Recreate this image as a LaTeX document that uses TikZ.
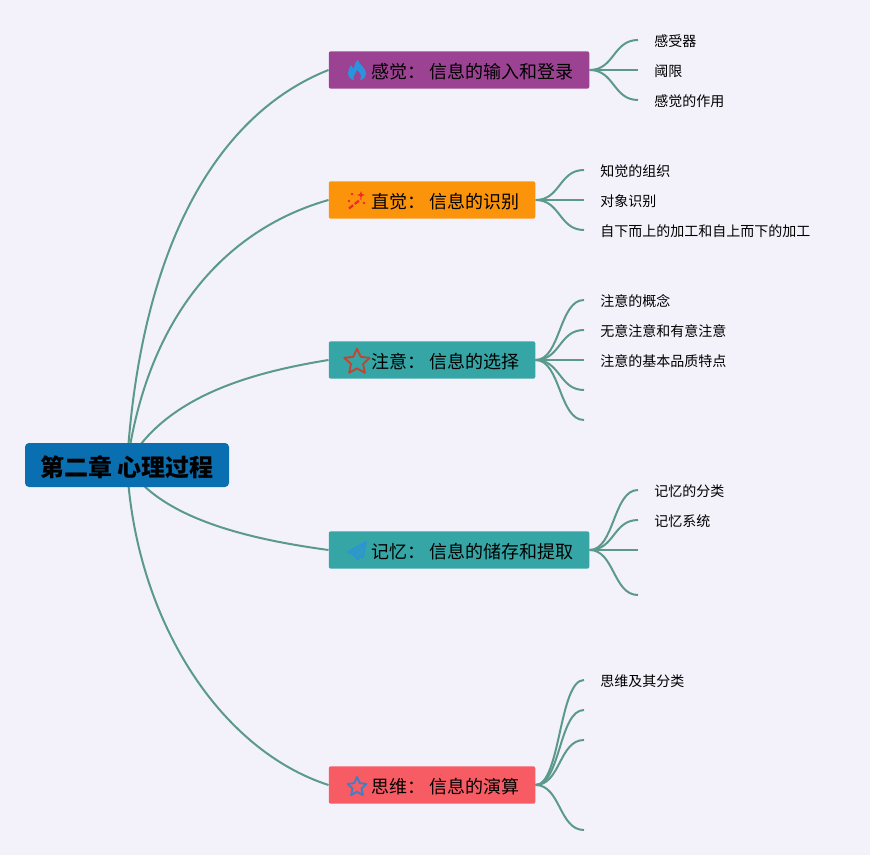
\documentclass[tikz,border=0pt]{standalone}
\usepackage{fontspec}
\setmainfont{Noto Sans CJK SC}
\usetikzlibrary{shapes.geometric}
\definecolor{pagebg}{HTML}{F3F2FA}
\definecolor{rootblue}{HTML}{0A6FB0}
\definecolor{topicpurple}{HTML}{9C4293}
\definecolor{topicorange}{HTML}{FB940B}
\definecolor{topicteal}{HTML}{35A5A5}
\definecolor{topicred}{HTML}{F75C64}
\definecolor{branchgreen}{HTML}{5B9A8B}
\definecolor{iconblue}{HTML}{2A93DC}
\definecolor{iconred}{HTML}{EE2B2B}
\definecolor{iconrust}{HTML}{C2452F}
\definecolor{iconstar}{HTML}{3F7FC4}
\pgfdeclarelayer{pagelayer}
\pgfdeclarelayer{edgelayer}
\pgfsetlayers{pagelayer,edgelayer,main}
\tikzset{
  rootnode/.style={fill=rootblue,rounded corners=3pt,font=\bfseries\fontsize{18}{20}\selectfont,text=black,minimum width=153pt,minimum height=33pt,inner sep=0pt,text height=18pt,text depth=.95pt},
  topic/.style={anchor=west,rounded corners=1.5pt,font=\fontsize{13.5}{16}\selectfont,text=black,minimum height=28pt,inner ysep=0pt,inner xsep=0pt,align=left,text height=14pt,text depth=1.43pt},
  leaf/.style={anchor=west,font=\fontsize{10.5}{13}\selectfont,text=black,inner xsep=12pt,inner ysep=0pt,text height=11pt,text depth=.9pt},
  branch/.style={draw=branchgreen,line width=1.5pt},
}
\begin{document}
\begin{tikzpicture}[x=0.75pt,y=0.75pt,yscale=-1,xscale=1]
\useasboundingbox (0,0) rectangle (870,855);
\begin{pgfonlayer}{pagelayer}
\fill[pagebg] (0,0) rectangle (870,855);
\end{pgfonlayer}

% root and topics
\node[rootnode] (root) at (127,465) {第二章 心理过程};
\node[topic,fill=topicpurple,minimum width=195.4pt] (senses) at (328.5,70) {\hspace{31.6pt}感觉： 信息的输入和登录\hspace{11pt}};
\node[topic,fill=topicorange,minimum width=154.9pt] (percept) at (328.5,200) {\hspace{31.6pt}直觉： 信息的识别\hspace{11pt}};
\node[topic,fill=topicteal,minimum width=154.9pt] (attend) at (328.5,360) {\hspace{31.6pt}注意： 信息的选择\hspace{11pt}};
\node[topic,fill=topicteal,minimum width=195.4pt] (memory) at (328.5,550) {\hspace{31.6pt}记忆： 信息的储存和提取\hspace{11pt}};
\node[topic,fill=topicred,minimum width=154.9pt] (think) at (328.5,785) {\hspace{31.6pt}思维： 信息的演算\hspace{11pt}};

% leaves of senses
\node[leaf] (senses1) at (638,40) {感受器};
\node[leaf] (senses2) at (638,70) {阈限};
\node[leaf] (senses3) at (638,100) {感觉的作用};
% leaves of percept
\node[leaf] (percept1) at (584,170) {知觉的组织};
\node[leaf] (percept2) at (584,200) {对象识别};
\node[leaf] (percept3) at (584,230) {自下而上的加工和自上而下的加工};
% leaves of attend
\node[leaf] (attend1) at (584,300) {注意的概念};
\node[leaf] (attend2) at (584,330) {无意注意和有意注意};
\node[leaf] (attend3) at (584,360) {注意的基本品质特点};
\node[leaf] (attend4) at (584,390) {};
\node[leaf] (attend5) at (584,420) {};
% leaves of memory
\node[leaf] (memory1) at (638,490) {记忆的分类};
\node[leaf] (memory2) at (638,520) {记忆系统};
\node[leaf] (memory3) at (638,550) {};
\node[leaf] (memory4) at (638,595) {};
% leaves of think
\node[leaf] (think1) at (584,680) {思维及其分类};
\node[leaf] (think2) at (584,710) {};
\node[leaf] (think3) at (584,740) {};
\node[leaf] (think4) at (584,830) {};

\begin{pgfonlayer}{edgelayer}
\draw[branch] (root.center) .. controls (140,250) and (215,115) .. (senses.west);
\draw[branch] (root.center) .. controls (150,300) and (240,225) .. (percept.west);
\draw[branch] (root.center) .. controls (165,395) and (255,372) .. (attend.west);
\draw[branch] (root.center) .. controls (160,520) and (255,540) .. (memory.west);
\draw[branch] (root.center) .. controls (135,620) and (220,750) .. (think.west);
\foreach \leafname in {senses1,senses2,senses3}
  \draw[branch] (senses.east) .. controls +(25,0) and +(-25,0) .. (\leafname.west);
\foreach \leafname in {percept1,percept2,percept3}
  \draw[branch] (percept.east) .. controls +(25,0) and +(-25,0) .. (\leafname.west);
\foreach \leafname in {attend1,attend2,attend3,attend4,attend5}
  \draw[branch] (attend.east) .. controls +(25,0) and +(-25,0) .. (\leafname.west);
\foreach \leafname in {memory1,memory2,memory3,memory4}
  \draw[branch] (memory.east) .. controls +(25,0) and +(-25,0) .. (\leafname.west);
\foreach \leafname in {think1,think2,think3,think4}
  \draw[branch] (think.east) .. controls +(25,0) and +(-25,0) .. (\leafname.west);
\end{pgfonlayer}

% icons
\fill[iconblue,even odd rule] (358,60) .. controls (359,65) and (366,68) .. (366,73)
  .. controls (366,77) and (363,80) .. (360,80)
  .. controls (362,77) and (361,73) .. (357,70)
  .. controls (356,74) and (352,76) .. (354,80)
  .. controls (351,80) and (348,77) .. (348,73)
  .. controls (348,70) and (350,67) .. (351,65)
  .. controls (352,67) and (353,68) .. (354,69)
  .. controls (354,66) and (355,62) .. (358,60) -- cycle;
\draw[iconred,line width=1.7pt,dash pattern=on 4pt off 1.5pt] (349,208.5) -- (361,199);
\fill[iconred] (361,191) -- (362,194) -- (365,195) -- (362,196) -- (361,199) -- (360,196) -- (357,195) -- (360,194) -- cycle;
\fill[iconred] (352,194) circle (1.3);
\fill[iconred] (364,203) circle (1.3);
\fill[iconred] (349,201) circle (1.3);
\node[star,star points=5,star point ratio=2.1,draw=iconrust,line width=1.4pt,line join=round,inner sep=0pt,minimum size=20pt] (attendicon) at (357,362) {};
\draw[iconblue,line width=1.1pt,line join=round,fill=iconblue,fill opacity=.45] (366,542) -- (348,552) -- (354,555) -- (358,560) -- (360,556) -- (363,558) -- cycle;
\draw[iconblue,line width=.8pt] (366,542) -- (354,555);
\node[star,star points=5,star point ratio=2.1,draw=iconstar,line width=1.4pt,line join=round,inner sep=0pt,minimum size=15pt] (thinkicon) at (357,787) {};
\end{tikzpicture}
\end{document}
